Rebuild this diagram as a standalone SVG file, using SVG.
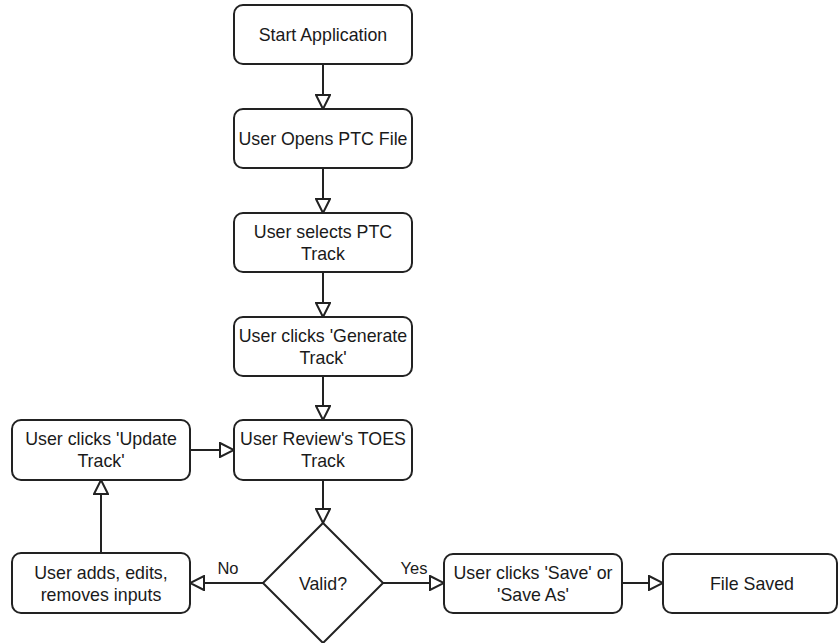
<svg xmlns="http://www.w3.org/2000/svg" width="838" height="643" viewBox="0 0 838 643">
<style>
.box{fill:#fff;stroke:#222;stroke-width:2}
.t{font-family:"Liberation Sans",Arial,sans-serif;font-size:17.8px;fill:#1a1a1a;text-anchor:middle}
.lbl{font-family:"Liberation Sans",Arial,sans-serif;font-size:16.5px;fill:#1a1a1a;text-anchor:middle}
.c{fill:none;stroke:#222;stroke-width:2}
</style>
<defs>
<marker id="arr" viewBox="0 0 16 16" refX="15" refY="8" markerWidth="16" markerHeight="16" markerUnits="userSpaceOnUse" orient="auto">
<path d="M1,1 L15,8 L1,15 Z" fill="#fff" stroke="#222" stroke-width="2"/>
</marker>
</defs>
<rect width="838" height="643" fill="#fff"/>
<g id="connectors">
<path class="c" d="M323,64 V109" marker-end="url(#arr)"/>
<path class="c" d="M323,168 V213" marker-end="url(#arr)"/>
<path class="c" d="M323,272 V317" marker-end="url(#arr)"/>
<path class="c" d="M323,376 V420" marker-end="url(#arr)"/>
<path class="c" d="M323,480 V523" marker-end="url(#arr)"/>
<path class="c" d="M190,450 H234" marker-end="url(#arr)"/>
<path class="c" d="M101,553 V480" marker-end="url(#arr)"/>
<path class="c" d="M263,583 H190" marker-end="url(#arr)"/>
<path class="c" d="M383,583 H444" marker-end="url(#arr)"/>
<path class="c" d="M622,583 H663" marker-end="url(#arr)"/>
<text class="lbl" x="228" y="574">No</text>
<text class="lbl" x="414" y="574">Yes</text>
</g>
<g id="start"><rect class="box" x="234" y="5" width="178" height="59" rx="9"/><text class="t" x="323" y="41">Start Application</text></g>
<g id="open"><rect class="box" x="234" y="109" width="178" height="59" rx="9"/><text class="t" x="323" y="145">User Opens PTC File</text></g>
<g id="select"><rect class="box" x="234" y="213" width="178" height="59" rx="9"/><text class="t" x="323" y="238">User selects PTC</text><text class="t" x="323" y="260">Track</text></g>
<g id="generate"><rect class="box" x="234" y="317" width="178" height="59" rx="9"/><text class="t" x="323" y="342">User clicks 'Generate</text><text class="t" x="323" y="364">Track'</text></g>
<g id="review"><rect class="box" x="234" y="420" width="178" height="60" rx="9"/><text class="t" x="323" y="445">User Review's TOES</text><text class="t" x="323" y="467">Track</text></g>
<g id="update"><rect class="box" x="12" y="420" width="178" height="60" rx="9"/><text class="t" x="101" y="445">User clicks 'Update</text><text class="t" x="101" y="467">Track'</text></g>
<g id="edit"><rect class="box" x="12" y="553" width="178" height="60" rx="9"/><text class="t" x="101" y="579">User adds, edits,</text><text class="t" x="101" y="601">removes inputs</text></g>
<g id="valid"><path class="box" d="M323,523 L383,583 L323,643 L263,583 Z"/><text class="t" x="323" y="590">Valid?</text></g>
<g id="save"><rect class="box" x="444" y="554" width="178" height="59" rx="9"/><text class="t" x="533" y="579">User clicks 'Save' or</text><text class="t" x="533" y="601">'Save As'</text></g>
<g id="saved"><rect class="box" x="663" y="554" width="174" height="59" rx="9"/><text class="t" x="752" y="590">File Saved</text></g>
</svg>
